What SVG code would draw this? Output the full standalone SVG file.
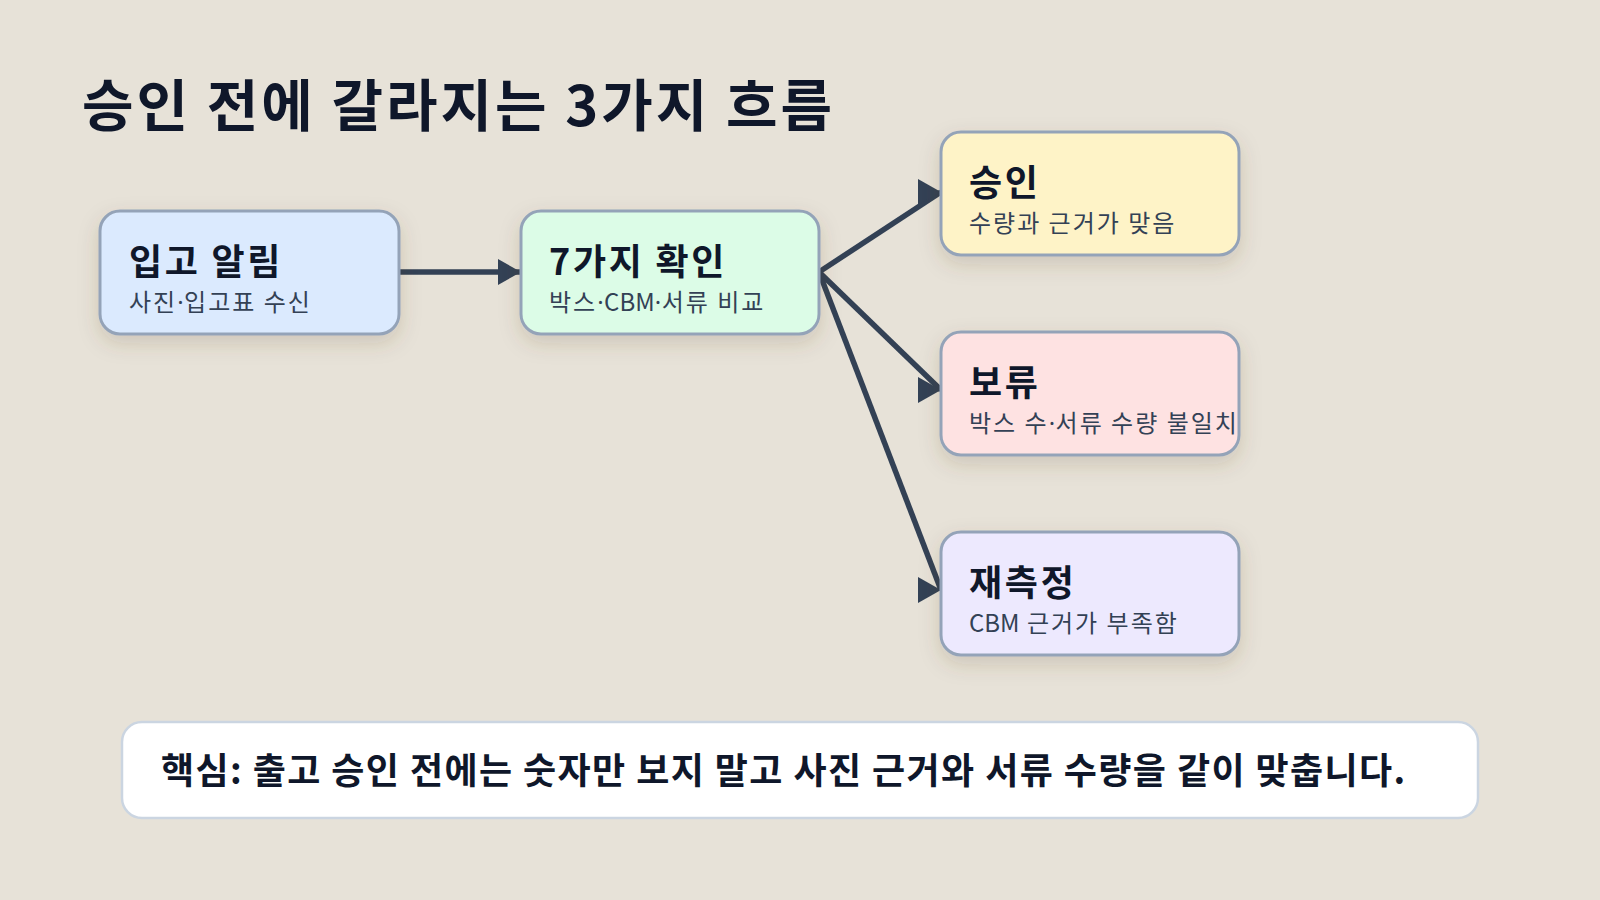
<svg xmlns="http://www.w3.org/2000/svg" width="1600" height="900" viewBox="0 0 1600 900">
<style>
.t{font-family:"Noto Sans CJK KR","Noto Sans",sans-serif;fill:#0f172a}
.title{font-size:56px;font-weight:700;letter-spacing:3px}
.nt{font-size:36px;font-weight:700;letter-spacing:2.7px}
.ns{font-size:24px;font-weight:400;fill:#334155;letter-spacing:2px}
.d{font-family:"Noto Sans",sans-serif;letter-spacing:0.5px}
.l{letter-spacing:0}
.box{stroke:#94a3b8;stroke-width:3}
.conn{stroke:#334155;stroke-width:5.5;fill:none}
.note{font-size:36px;font-weight:700;letter-spacing:1.4px}
</style>
<defs>
<filter id="sh" x="-20%" y="-20%" width="140%" height="160%">
<feDropShadow dx="0" dy="8" stdDeviation="10" flood-color="#5b4a30" flood-opacity="0.18"/>
</filter>
<marker id="ah" markerUnits="userSpaceOnUse" markerWidth="24" markerHeight="28" refX="23" refY="13">
<path d="M0,0 L23,13 L0,26 Z" fill="#334155"/>
</marker>
</defs>
<rect width="1600" height="900" fill="#e7e2d8"/>
<text class="t title" x="82" y="126">승인 전에 갈라지는 3가지 흐름</text>
<g id="connectors">
<line class="conn" x1="399" y1="272" x2="521" y2="272" marker-end="url(#ah)"/>
<line class="conn" x1="819" y1="272" x2="941" y2="192" marker-end="url(#ah)"/>
<line class="conn" x1="819" y1="272" x2="941" y2="390" marker-end="url(#ah)"/>
<line class="conn" x1="819" y1="272" x2="941" y2="590" marker-end="url(#ah)"/>
</g>
<g id="n1">
<rect class="box" x="100" y="211" width="299" height="123" rx="20" fill="#dbeafe" filter="url(#sh)"/>
<text class="t nt" x="129" y="275">입고 알림</text>
<text class="t ns" x="129" y="311">사진<tspan class="d">·</tspan>입고표 수신</text>
</g>
<g id="n2">
<rect class="box" x="521" y="211" width="298" height="123" rx="20" fill="#dcfce7" filter="url(#sh)"/>
<text class="t nt" x="549" y="275">7가지 확인</text>
<text class="t ns" x="549" y="311">박스<tspan class="d">·</tspan><tspan class="l">CBM</tspan><tspan class="d">·</tspan>서류 비교</text>
</g>
<g id="n3">
<rect class="box" x="941" y="132" width="298" height="123" rx="20" fill="#fef3c7" filter="url(#sh)"/>
<text class="t nt" x="969" y="196">승인</text>
<text class="t ns" x="969" y="232">수량과 근거가 맞음</text>
</g>
<g id="n4">
<rect class="box" x="941" y="332" width="298" height="123" rx="20" fill="#fee2e2" filter="url(#sh)"/>
<text class="t nt" x="969" y="396">보류</text>
<text class="t ns" x="969" y="432">박스 수<tspan class="d">·</tspan>서류 수량 불일치</text>
</g>
<g id="n5">
<rect class="box" x="941" y="532" width="298" height="123" rx="20" fill="#ede9fe" filter="url(#sh)"/>
<text class="t nt" x="969" y="596">재측정</text>
<text class="t ns" x="969" y="632"><tspan class="l">CBM</tspan> 근거가 부족함</text>
</g>
<g id="note">
<rect x="122" y="722" width="1356" height="96" rx="20" fill="#ffffff" stroke="#cbd5e1" stroke-width="2.5"/>
<text class="t note" x="161" y="784">핵심: 출고 승인 전에는 숫자만 보지 말고 사진 근거와 서류 수량을 같이 맞춥니다.</text>
</g>
</svg>
